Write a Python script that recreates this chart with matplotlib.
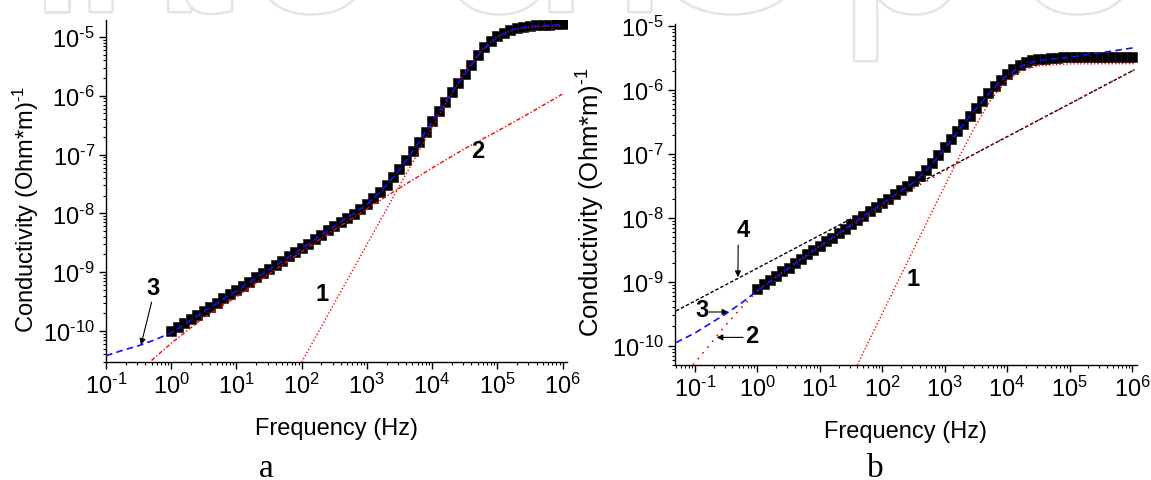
import numpy as np
import matplotlib
matplotlib.use("Agg")
import matplotlib.pyplot as plt
import matplotlib.patheffects as pe
from matplotlib.ticker import LogLocator, FuncFormatter, NullFormatter

plt.rcParams['font.family'] = ['Liberation Sans', 'DejaVu Sans']
plt.rcParams['mathtext.fontset'] = 'custom'
plt.rcParams['mathtext.rm'] = 'Liberation Sans'
plt.rcParams['mathtext.it'] = 'Liberation Sans:italic'
plt.rcParams['mathtext.bf'] = 'Liberation Sans:bold'
plt.rcParams['mathtext.default'] = 'regular'

# measured frequency sweep (Hz), shared by both samples
freq_hz = [1.0, 1.26, 1.58, 2.0, 2.51, 3.16, 3.98, 5.01, 6.31, 7.94,
           10.0, 12.6, 15.8, 20.0, 25.1, 31.6, 39.8, 50.1, 63.1, 79.4,
           100, 126, 158, 200, 251, 316, 398, 501, 631, 794,
           1.0e3, 1.26e3, 1.58e3, 2.0e3, 2.51e3, 3.16e3, 3.98e3, 5.01e3, 6.31e3, 7.94e3,
           1.0e4, 1.26e4, 1.58e4, 2.0e4, 2.51e4, 3.16e4, 3.98e4, 5.01e4, 6.31e4, 7.94e4,
           1.0e5, 1.26e5, 1.58e5, 2.0e5, 2.51e5, 3.16e5, 3.98e5, 5.01e5, 6.31e5, 7.94e5,
           1.0e6]

# sample a: measured conductivity, (Ohm*m)^-1
sigma_a = [1.00e-10, 1.17e-10, 1.38e-10, 1.58e-10, 1.86e-10, 2.19e-10, 2.57e-10, 3.02e-10, 3.63e-10, 4.27e-10,
           4.90e-10, 5.75e-10, 6.76e-10, 8.13e-10, 9.55e-10, 1.12e-9, 1.32e-9, 1.58e-9, 1.86e-9, 2.19e-9,
           2.57e-9, 3.02e-9, 3.63e-9, 4.27e-9, 5.13e-9, 6.17e-9, 7.24e-9, 8.32e-9, 9.77e-9, 1.17e-8,
           1.45e-8, 1.82e-8, 2.34e-8, 3.09e-8, 4.17e-8, 5.62e-8, 7.94e-8, 1.15e-7, 1.66e-7, 2.45e-7,
           3.72e-7, 5.50e-7, 7.94e-7, 1.15e-6, 1.62e-6, 2.34e-6, 3.39e-6, 4.90e-6, 6.76e-6, 8.51e-6,
           1.02e-5, 1.17e-5, 1.32e-5, 1.41e-5, 1.48e-5, 1.55e-5, 1.58e-5, 1.62e-5, 1.62e-5, 1.66e-5,
           1.66e-5]

# sample a: fitted components 1 (relaxation), 2 (hopping) and 3 (total)
fit1_a_f = [100, 316, 1000, 3162, 1.0e4, 1.78e4, 3.16e4, 5.62e4, 1.0e5, 1.78e5, 3.16e5, 1.0e6]
fit1_a_s = [2.95e-11, 2.95e-10, 2.95e-9, 2.94e-8, 2.89e-7, 8.79e-7, 2.47e-6, 5.83e-6, 1.015e-5, 1.33e-5, 1.47e-5, 1.54e-5]
fit2_a_f = [0.5, 1, 3.16, 10, 31.6, 100, 316, 1000, 3162, 1.0e4, 3.16e4, 1.0e5, 3.16e5, 1.0e6]
fit2_a_s = [3.16e-11, 6.2e-11, 1.70e-10, 3.8e-10, 9.3e-10, 2.24e-9, 5.25e-9, 1.20e-8, 2.69e-8, 5.9e-8, 1.26e-7, 2.5e-7, 5.1e-7, 1.07e-6]
fit3_a_f = [0.1, 0.178, 0.316, 0.562, 1, 3.16, 10, 31.6, 100, 316, 1000, 1778, 3162, 5623,
            1.0e4, 1.78e4, 3.16e4, 5.62e4, 1.0e5, 1.78e5, 3.16e5, 1.0e6]
fit3_a_s = [3.8e-11, 4.68e-11, 5.62e-11, 7.08e-11, 9.33e-11, 2.14e-10, 4.79e-10, 1.10e-9, 2.51e-9, 6.03e-9, 1.41e-8,
            2.63e-8, 5.50e-8, 1.35e-7, 3.63e-7, 9.33e-7, 2.29e-6, 5.62e-6, 1.0e-5, 1.35e-5, 1.51e-5, 1.62e-5]

# sample b: measured conductivity
sigma_b = [7.76e-10, 9.12e-10, 1.05e-9, 1.23e-9, 1.45e-9, 1.66e-9, 1.95e-9, 2.29e-9, 2.69e-9, 3.09e-9,
           3.63e-9, 4.27e-9, 4.90e-9, 5.75e-9, 6.76e-9, 7.94e-9, 9.12e-9, 1.07e-8, 1.26e-8, 1.45e-8,
           1.70e-8, 2.00e-8, 2.34e-8, 2.69e-8, 3.16e-8, 3.72e-8, 4.47e-8, 5.62e-8, 7.24e-8, 9.55e-8,
           1.29e-7, 1.70e-7, 2.24e-7, 2.95e-7, 3.89e-7, 5.13e-7, 6.76e-7, 8.91e-7, 1.15e-6, 1.45e-6,
           1.78e-6, 2.14e-6, 2.45e-6, 2.69e-6, 2.88e-6, 3.02e-6, 3.09e-6, 3.16e-6, 3.16e-6, 3.24e-6,
           3.24e-6, 3.24e-6, 3.25e-6, 3.25e-6, 3.26e-6, 3.26e-6, 3.27e-6, 3.27e-6, 3.28e-6, 3.28e-6,
           3.29e-6]

# sample b: fitted components 1-4
fit1_b_f = [39.8, 100, 316, 1000, 1778, 3162, 5623, 1.0e4, 1.78e4, 3.16e4, 1.0e5, 1.1e6]
fit1_b_s = [5.0e-11, 3.17e-10, 3.17e-9, 3.13e-8, 9.65e-8, 2.82e-7, 7.21e-7, 1.42e-6, 2.05e-6, 2.38e-6, 2.55e-6, 2.57e-6]
fit2_b_f = [0.0933, 0.178, 0.316, 0.562, 1, 3.16, 10, 31.6, 100, 316, 1000, 3162, 1.0e4, 3.16e4, 1.0e5, 3.16e5, 1.1e6]
fit2_b_s = [5.0e-11, 1.07e-10, 2.14e-10, 3.98e-10, 7.24e-10, 1.66e-9, 3.63e-9, 7.41e-9, 1.48e-8, 2.88e-8, 5.37e-8,
            1.02e-7, 1.86e-7, 3.35e-7, 6.03e-7, 1.10e-6, 2.07e-6]
fit3_b_f = [0.05, 0.1, 0.178, 0.316, 0.562, 1, 3.16, 10, 31.6, 100, 316, 562, 1000, 1778, 3162, 5623,
            1.0e4, 1.78e4, 3.16e4, 1.0e5, 3.16e5, 1.1e6]
fit3_b_s = [1.12e-10, 1.58e-10, 2.24e-10, 3.16e-10, 4.68e-10, 7.24e-10, 1.62e-9, 3.55e-9, 7.76e-9, 1.66e-8, 3.55e-8,
            6.03e-8, 1.20e-7, 2.51e-7, 5.01e-7, 9.77e-7, 1.70e-6, 2.40e-6, 2.88e-6, 3.24e-6, 3.80e-6, 4.57e-6]
fit4_b_f = [0.05, 1.1e6]
fit4_b_s = [3.5e-10, 2.07e-6]

# letters of the publisher mark and their centres along the top edge (pixels)
mark_letters = ['I', 'n', 't', 'e', 'c', 'h', 'O', 'p', 'e', 'n']
mark_x_px = [57, 140, 200, 310, 495, 600, 732, 905, 1077, 1235]


def decade_label(v, pos):
    e = int(round(np.log10(v)))
    if e < 0:
        return r'$10^{\text{-}%d}$' % (-e)
    return r'$10^{%d}$' % e


def setup_axes(ax, xlim, ylim, ylabel_size, ylabel_pos):
    ax.set_xscale('log')
    ax.set_yscale('log')
    ax.set_xlim(*xlim)
    ax.set_ylim(*ylim)
    ax.patch.set_alpha(0)
    for s in ('top', 'right'):
        ax.spines[s].set_visible(False)
    for s in ('left', 'bottom'):
        ax.spines[s].set_linewidth(1.0)
    for axis in (ax.xaxis, ax.yaxis):
        axis.set_major_locator(LogLocator(base=10, numticks=30))
        axis.set_minor_locator(LogLocator(base=10, subs=range(2, 10), numticks=30))
        axis.set_major_formatter(FuncFormatter(decade_label))
        axis.set_minor_formatter(NullFormatter())
    ax.tick_params(which='major', direction='out', length=5, width=1.0, labelsize=17, pad=3)
    ax.tick_params(which='minor', direction='out', length=2.5, width=0.8)
    ax.set_xlabel('Frequency (Hz)', fontsize=17)
    ax.xaxis.set_label_coords(0.5, -0.16)
    ax.set_ylabel(r'Conductivity (Ohm*m)$^{\text{-}1}$', fontsize=ylabel_size)
    ax.yaxis.set_label_coords(*ylabel_pos)


fig = plt.figure(figsize=(11.51, 4.81), dpi=100)

# faint publisher mark along the top edge
for letter, xp in zip(mark_letters, mark_x_px):
    fig.text(xp / 1151, 469 / 481, letter, fontsize=170, color='white', ha='center',
             va='baseline', zorder=0,
             path_effects=[pe.withStroke(linewidth=3.5, foreground='#e4e4e4')])

bold = dict(fontsize=17, fontweight='bold', ha='center', va='center')
arrow = dict(arrowstyle='-|>', color='black', lw=0.8, mutation_scale=9, shrinkA=0, shrinkB=0)

# ---- panel a ----
ax1 = fig.add_axes([0.0921, 0.2453, 0.4005, 0.7110])
setup_axes(ax1, (0.1, 1.17e6), (2.97e-11, 1.94e-5), 17, (-0.14, 0.45))
ax1.plot(freq_hz, sigma_a, 's', color='black', ms=6.5, mec='#222222', mew=0.5, zorder=2)
ax1.plot(fit2_a_f, fit2_a_s, color='red', lw=1.0, dashes=(3, 1.5, 1, 1.5), zorder=3)
ax1.plot(fit1_a_f, fit1_a_s, color='red', lw=1.0, dashes=(1, 1.5), zorder=3)
ax1.plot(fit3_a_f, fit3_a_s, color='#1010ff', lw=1.2, dashes=(4, 2.5), zorder=4)
ax1.text(0.535, 5.6e-10, '3', **bold)
ax1.text(206, 4.4e-10, '1', **bold)
ax1.text(5.08e4, 1.15e-7, '2', **bold)
ax1.annotate('', xy=(0.344, 5.8e-11), xytext=(0.50, 3.1e-10), arrowprops=arrow)

# ---- panel b ----
ax2 = fig.add_axes([0.5864, 0.2391, 0.4014, 0.7089])
setup_axes(ax2, (0.048, 1.2e6), (5.0e-11, 1.07e-5), 18.5, (-0.147, 0.48))
ax2.plot(freq_hz, sigma_b, 's', color='black', ms=6.5, mec='#222222', mew=0.5, zorder=2)
ax2.plot(fit4_b_f, fit4_b_s, color='black', lw=1.0, dashes=(2.5, 1.5), zorder=3)
ax2.plot(fit2_b_f, fit2_b_s, color='red', lw=1.2, dashes=(1, 3.5), zorder=3)
ax2.plot(fit1_b_f, fit1_b_s, color='red', lw=1.0, dashes=(1, 1.5), zorder=3)
ax2.plot(fit3_b_f, fit3_b_s, color='#1010ff', lw=1.2, dashes=(4, 2.5), zorder=4)
ax2.text(0.587, 6.65e-9, '4', **bold)
ax2.text(0.128, 3.74e-10, '3', **bold)
ax2.text(0.81, 1.43e-10, '2', **bold)
ax2.text(315, 1.14e-9, '1', **bold)
ax2.annotate('', xy=(0.489, 1.18e-9), xytext=(0.494, 3.74e-9), arrowprops=arrow)
ax2.annotate('', xy=(0.344, 3.37e-10), xytext=(0.168, 3.37e-10), arrowprops=arrow)
ax2.annotate('', xy=(0.223, 1.35e-10), xytext=(0.594, 1.35e-10), arrowprops=arrow)

fig.text(266 / 1151, 4 / 481, 'a', family='Liberation Serif', fontsize=24, ha='center', va='baseline')
fig.text(875 / 1151, 4 / 481, 'b', family='Liberation Serif', fontsize=24, ha='center', va='baseline')

fig.savefig('out.png', dpi=100)
